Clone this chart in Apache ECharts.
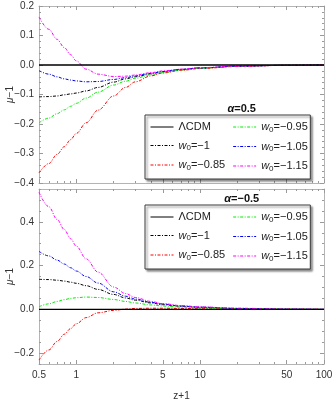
<!DOCTYPE html>
<html><head><meta charset="utf-8">
<script src="https://cdn.jsdelivr.net/npm/echarts@6/dist/echarts.min.js"></script>
<style>html,body{margin:0;padding:0;background:#fff}#c{width:336px;height:400px}</style>
</head><body><div id="c"></div>
<script>
// ---- data ----
const zPlus1 = [0.5,0.6,0.7,0.8,0.9,1,1.2,1.5,2,2.5,3,4,5,7,10,20,50,100];
const seriesNames = ['ΛCDM','w0=-1','w0=-0.85','w0=-0.95','w0=-1.05','w0=-1.15'];
// top panel: alpha = 0.5
const topLCDM = [0,0,0,0,0,0,0,0,0,0,0,0,0,0,0,0,0,0];
const topW100 = [-0.108,-0.107,-0.105,-0.101,-0.098,-0.095,-0.088,-0.076,-0.058,-0.047,-0.040,-0.030,-0.023,-0.015,-0.010,-0.004,-0.001,0];
const topW085 = [-0.366,-0.334,-0.303,-0.277,-0.253,-0.232,-0.196,-0.153,-0.105,-0.076,-0.057,-0.037,-0.027,-0.018,-0.012,-0.005,-0.001,0];
const topW095 = [-0.196,-0.180,-0.165,-0.152,-0.140,-0.130,-0.112,-0.092,-0.068,-0.055,-0.045,-0.033,-0.026,-0.017,-0.011,-0.004,-0.001,0];
const topW105 = [-0.019,-0.031,-0.040,-0.047,-0.051,-0.054,-0.057,-0.056,-0.049,-0.043,-0.037,-0.028,-0.022,-0.015,-0.010,-0.004,-0.001,0];
const topW115 = [0.163,0.121,0.087,0.059,0.035,0.014,-0.014,-0.031,-0.039,-0.038,-0.034,-0.026,-0.020,-0.014,-0.009,-0.004,-0.001,0];
// bottom panel: alpha = -0.5
const botLCDM = [0,0,0,0,0,0,0,0,0,0,0,0,0,0,0,0,0,0];
const botW100 = [0.137,0.136,0.133,0.129,0.124,0.119,0.108,0.091,0.068,0.052,0.042,0.029,0.021,0.014,0.009,0.004,0.001,0];
const botW085 = [-0.232,-0.186,-0.147,-0.114,-0.088,-0.066,-0.038,-0.016,-0.005,0.001,0.004,0.005,0.005,0.004,0.003,0.001,0,0];
const botW095 = [0.012,0.025,0.036,0.044,0.050,0.053,0.056,0.054,0.045,0.036,0.029,0.020,0.015,0.010,0.006,0.002,0.001,0];
const botW105 = [0.265,0.244,0.225,0.207,0.190,0.175,0.150,0.120,0.080,0.060,0.047,0.032,0.024,0.015,0.010,0.004,0.001,0];
const botW115 = [0.535,0.469,0.411,0.365,0.323,0.289,0.231,0.170,0.102,0.072,0.054,0.036,0.026,0.017,0.011,0.005,0.001,0];
const panelTitles = ['0.5','\u22120.5'];
const xMajorTicks = [0.5,1,5,10,50,100];
const xMinorTicks = [0.6,0.7,0.8,0.9,2,3,4,6,7,8,9,20,30,40,60,70,80,90];
const yBotLabels = [-0.2,0,0.2,0.4];

// ---- styles ----
const FONT = 'Liberation Sans';
const frameColor = '#b4b4b4';
const tickColor = '#9a9a9a';
const labelColor = '#333';
const styles = [
  {color:'#000', type:'solid', width:1.3},
  {color:'#000', type:[3,1.5,1,1.5], width:1},
  {color:'#ff0000', type:[3,1.5,1,1.5], width:1},
  {color:'#00ee00', type:[3,1.5,1,1.5], width:1},
  {color:'#0000ff', type:[3,1.5,1,1.5], width:1},
  {color:'#ff00ff', type:[3,1.5,1,1.5], width:1}
];
const lg = Math.log10;
const xMin = lg(0.5), xMax = lg(100);

function fmtMinus(v){ return String(v).replace('-', '\u2212'); }

function xAxesFor(grid, showLabels){
  const base = {gridIndex:grid, type:'value', min:xMin, max:xMax, splitLine:{show:false}};
  const major = xMajorTicks.map(lg), minor = xMinorTicks.map(lg);
  return [
    {gridIndex:grid, type:'log', logBase:10, min:0.5, max:100, show:false},
    Object.assign({}, base, {position:'bottom',
      axisLine:{show:true, onZero:false, lineStyle:{color:frameColor, width:1}},
      axisTick:{show:true, inside:true, length:4, customValues:major, lineStyle:{color:tickColor}},
      axisLabel:{show:showLabels, customValues:major, color:labelColor, fontSize:10, fontFamily:FONT, margin:6,
        formatter:function(v){ const r = Math.pow(10,v); return String(Math.round(r*10)/10); }},
      name: showLabels ? 'z+1' : '', nameLocation:'middle', nameGap:27, nameMoveOverlap:false,
      nameTextStyle:{color:labelColor, fontSize:10, fontFamily:FONT}}),
    Object.assign({}, base, {position:'bottom', axisLine:{show:false, onZero:false},
      axisTick:{show:true, inside:true, length:2, customValues:minor, lineStyle:{color:tickColor}},
      axisLabel:{show:false}}),
    Object.assign({}, base, {position:'top',
      axisLine:{show:true, onZero:false, lineStyle:{color:frameColor, width:1}},
      axisTick:{show:true, inside:true, length:4, customValues:major, lineStyle:{color:tickColor}},
      axisLabel:{show:false}}),
    Object.assign({}, base, {position:'top', axisLine:{show:false, onZero:false},
      axisTick:{show:true, inside:true, length:2, customValues:minor, lineStyle:{color:tickColor}},
      axisLabel:{show:false}})
  ];
}

const yName = {name:'{i|μ}\u22121', nameLocation:'middle', nameGap:24, nameRotate:90, nameMoveOverlap:false,
  nameTextStyle:{color:labelColor, fontSize:10, fontFamily:FONT, rich:{i:{fontStyle:'italic', fontSize:10, fontFamily:FONT, color:labelColor}}}};

const yLabelFmt = function(v){ return fmtMinus((Math.round(v*10)/10).toFixed(1)); };

const yAxes = [
  // top panel
  Object.assign({gridIndex:0, type:'value', min:-0.4, max:0.2, interval:0.1, position:'left', splitLine:{show:false},
    axisLine:{show:true, onZero:false, lineStyle:{color:frameColor}},
    axisTick:{show:true, inside:true, length:4, lineStyle:{color:tickColor}},
    minorTick:{show:true, splitNumber:5, length:2, lineStyle:{color:tickColor}},
    axisLabel:{color:labelColor, fontSize:10, fontFamily:FONT, margin:5, formatter:yLabelFmt}}, yName),
  {gridIndex:0, type:'value', min:-0.4, max:0.2, interval:0.1, position:'right', splitLine:{show:false},
    axisLine:{show:true, onZero:false, lineStyle:{color:frameColor}},
    axisTick:{show:true, inside:true, length:4, lineStyle:{color:tickColor}},
    minorTick:{show:true, splitNumber:5, length:2, lineStyle:{color:tickColor}},
    axisLabel:{show:false}},
  // bottom panel
  Object.assign({gridIndex:1, type:'value', min:-0.25, max:0.55, position:'left', splitLine:{show:false},
    axisLine:{show:true, onZero:false, lineStyle:{color:frameColor}},
    axisTick:{show:true, inside:true, length:4, customValues:yBotLabels, lineStyle:{color:tickColor}},
    axisLabel:{customValues:yBotLabels, color:labelColor, fontSize:10, fontFamily:FONT, margin:5, formatter:yLabelFmt}}, yName),
  {gridIndex:1, type:'value', min:-0.25, max:0.55, interval:0.05, position:'left', splitLine:{show:false},
    axisLine:{show:false, onZero:false}, axisTick:{show:true, inside:true, length:2, lineStyle:{color:tickColor}}, axisLabel:{show:false}},
  {gridIndex:1, type:'value', min:-0.25, max:0.55, position:'right', splitLine:{show:false},
    axisLine:{show:true, onZero:false, lineStyle:{color:frameColor}},
    axisTick:{show:true, inside:true, length:4, customValues:yBotLabels, lineStyle:{color:tickColor}}, axisLabel:{show:false}},
  {gridIndex:1, type:'value', min:-0.25, max:0.55, interval:0.05, position:'right', splitLine:{show:false},
    axisLine:{show:false, onZero:false}, axisTick:{show:true, inside:true, length:2, lineStyle:{color:tickColor}}, axisLabel:{show:false}}
];

const topData = [topLCDM, topW100, topW085, topW095, topW105, topW115];
const botData = [botLCDM, botW100, botW085, botW095, botW105, botW115];

function mkSeries(dataSets, xIdx, yIdx){
  return dataSets.map(function(arr, i){
    return {type:'line', name:seriesNames[i], xAxisIndex:xIdx, yAxisIndex:yIdx,
      data: zPlus1.map(function(z, k){ return [z, arr[k]]; }),
      symbol:'none', smooth:0.35, smoothMonotone:'x', clip:true, animation:false,
      lineStyle:{color:styles[i].color, type:styles[i].type, width:styles[i].width},
      itemStyle:{color:styles[i].color}, z: i===0 ? 3 : 2};
  });
}

function legendFor(top){
  return {data:seriesNames, orient:'vertical', left:145, top:top, height:56,
    padding:[6.5,2.5,6.5,5], itemGap:7.5, itemWidth:23, itemHeight:12,
    backgroundColor:'#fff', borderColor:'#3a3a3a', borderWidth:1,
    shadowColor:'rgba(0,0,0,0.45)', shadowBlur:2, shadowOffsetX:2, shadowOffsetY:2,
    selectedMode:false,
    itemStyle:{opacity:0, borderWidth:0},
    lineStyle:{width:1},
    formatter:function(n){ if(n==='ΛCDM') return 'ΛCDM'; return '{i|w}{s|0}=' + fmtMinus(n.slice(3)); },
    textStyle:{color:'#222', fontSize:11, fontFamily:FONT, width:53,
      rich:{i:{fontStyle:'italic', fontSize:11, fontFamily:FONT, color:'#222'},
            s:{fontSize:8, fontFamily:FONT, color:'#222', verticalAlign:'bottom', padding:[5,0,0,0]}}}};
}

function titleText(y, val){
  return {type:'text', x:241.7, y:y, z:100,
    style:{text:'{a|α}=' + val, fill:'#111', fontSize:11, fontWeight:'bold', fontFamily:FONT,
      align:'center', verticalAlign:'middle',
      rich:{a:{fontStyle:'italic', fontWeight:'bold', fontSize:11, fontFamily:FONT, fill:'#111'}}}};
}

const chart = echarts.init(document.getElementById('c'), null, {renderer:'canvas'});
chart.setOption({
  animation:false,
  backgroundColor:'#fff',
  grid:[{left:39, top:6, width:285, height:177, outerBoundsMode:'none', containLabel:false},
        {left:39, top:189, width:285, height:175, outerBoundsMode:'none', containLabel:false}],
  xAxis: xAxesFor(0,false).concat(xAxesFor(1,true)),
  yAxis: yAxes,
  legend:[legendFor(115), legendFor(205)],
  graphic:[titleText(109, panelTitles[0]), titleText(199, panelTitles[1])],
  series: mkSeries(topData, 0, 0).concat(mkSeries(botData, 5, 2))
});
</script></body></html>
